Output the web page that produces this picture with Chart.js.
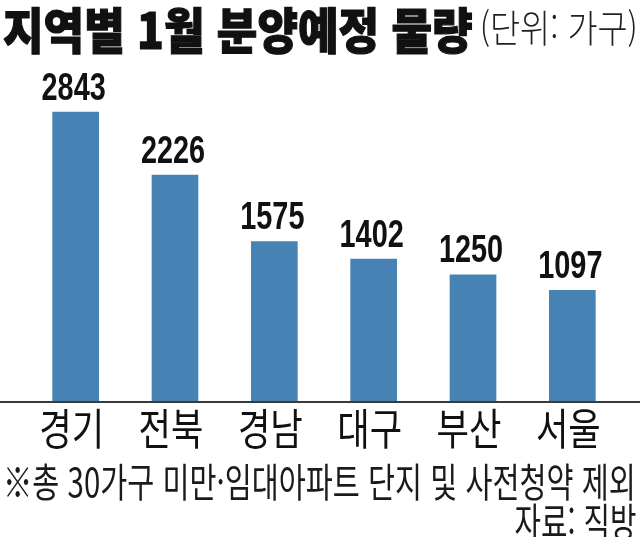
<!DOCTYPE html>
<html lang="ko">
<head>
<meta charset="utf-8">
<script src="https://cdn.jsdelivr.net/npm/chart.js@4/dist/chart.umd.min.js"></script>
<style>
  html, body { margin: 0; padding: 0; background: #fff; }
  #wrap { position: relative; width: 640px; height: 537px; overflow: hidden; }
  canvas { position: absolute; left: 0; top: 0; }
  .t { position: absolute; white-space: nowrap; font-family: "Noto Sans CJK KR", "Noto Sans", sans-serif; color: #111; line-height: 1; }
  #title { left: 3px; top: 3px; font-size: 49px; font-weight: 900; transform: scaleX(0.9); transform-origin: left top; -webkit-text-stroke: 1.2px #111; }
  #unit { right: 2px; top: 7px; font-size: 38px; font-weight: 300; transform: scaleX(0.86); transform-origin: right top; color: #222; }
  #note { left: 3px; top: 460px; font-size: 40px; font-weight: 400; transform: scaleX(0.734); transform-origin: left top; color: #1a1a1a; }
  #src { right: 3px; top: 500px; font-size: 40px; font-weight: 400; transform: scaleX(0.72); transform-origin: right top; color: #1a1a1a; }
</style>
</head>
<body>
<div id="wrap">
  <canvas id="c" width="640" height="537"></canvas>
  <div class="t" id="title">지역별 1월 분양예정 물량</div>
  <div class="t" id="unit">(단위: 가구)</div>
  <div class="t" id="note">※총 30가구 미만·임대아파트 단지 및 사전청약 제외</div>
  <div class="t" id="src">자료: 직방</div>
</div>
<script>
const categories = ['경기', '전북', '경남', '대구', '부산', '서울'];
const values = [2843, 2226, 1575, 1402, 1250, 1097];
const yMax = 3350;

const labelPlugin = {
  id: 'labelPlugin',
  afterDatasetsDraw(chart) {
    const ctx = chart.ctx;
    const xs = chart.scales.x, ys = chart.scales.y;
    const base = ys.getPixelForValue(0);
    ctx.save();
    ctx.fillStyle = '#3a3a3a';
    ctx.fillRect(0, base - 1, chart.width, 2);
    const meta = chart.getDatasetMeta(0);
    meta.data.forEach((bar, i) => {
      // value label
      ctx.save();
      ctx.translate(bar.x - 2, bar.y - 12);
      ctx.scale(0.74, 1);
      ctx.font = 'bold 39px "Liberation Sans", Arial, sans-serif';
      ctx.fillStyle = '#111';
      ctx.textAlign = 'center';
      ctx.textBaseline = 'alphabetic';
      ctx.fillText(String(values[i]), 0, 0);
      ctx.restore();
      // category label
      ctx.save();
      ctx.translate(xs.getPixelForValue(i) - 4, base + 27);
      ctx.scale(0.82, 1);
      ctx.font = '400 43px "Noto Sans CJK KR", sans-serif';
      ctx.fillStyle = '#111';
      ctx.textAlign = 'center';
      ctx.textBaseline = 'middle';
      ctx.fillText(categories[i], 0, 0);
      ctx.restore();
    });
    ctx.restore();
  }
};

new Chart(document.getElementById('c'), {
  type: 'bar',
  data: {
    labels: categories,
    datasets: [{
      data: values,
      backgroundColor: '#4683b4',
      borderWidth: 0,
      barPercentage: 0.47,
      categoryPercentage: 1.0
    }]
  },
  options: {
    responsive: false,
    animation: false,
    layout: { padding: { left: 26, right: 18, top: 60, bottom: 135 } },
    plugins: { legend: { display: false }, tooltip: { enabled: false }, title: { display: false } },
    scales: {
      x: { display: false, grid: { display: false } },
      y: { display: false, min: 0, max: yMax, grid: { display: false } }
    }
  },
  plugins: [labelPlugin]
});
</script>
</body>
</html>
